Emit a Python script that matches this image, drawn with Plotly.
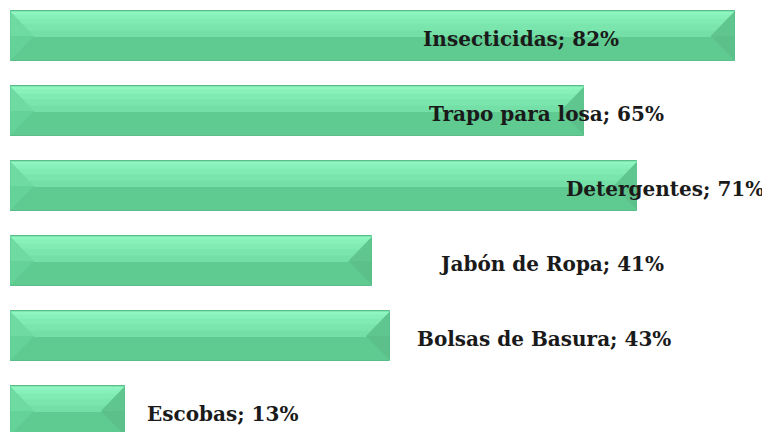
import plotly.graph_objects as go

# ---- data ----
categories = ["Insecticidas", "Trapo para losa", "Detergentes", "Jabón de Ropa", "Bolsas de Basura", "Escobas"]
values = [82, 65, 71, 41, 43, 13]
# label centre positions (x, in % units) as placed in the original chart
label_x = [57.8, 60.7, 74.1, 61.3, 60.4, 24.0]

pos = list(range(len(categories)))
BAR_W = 0.667
HALF = BAR_W / 2
BEVEL = 2.65  # x-units of the end bevels

fig = go.Figure()

# base bar (lower, darker tone)
fig.add_trace(go.Bar(
    y=pos, x=values, orientation="h", width=BAR_W,
    marker=dict(color="#5FCB91", line=dict(color="#5ABD8A", width=1)),
    hoverinfo="skip", showlegend=False,
))


def poly(xs, ys, col):
    fig.add_trace(go.Scatter(x=xs + [xs[0]], y=ys + [ys[0]], fill="toself", mode="lines",
                             line=dict(width=0), fillcolor=col, hoverinfo="skip", showlegend=False))


# upper highlight band as nested trapezoids (gradient approximation)
bands = [(1.0, "#74DFA7"), (0.75, "#7AE5AD"), (0.5, "#80EBB3"), (0.28, "#88F1BB"), (0.1, "#8FF6C2")]
for p, v in zip(pos, values):
    top, bot = p - HALF + 0.012, p + HALF - 0.012
    x0, x1 = 0.06, v - 0.06
    for frac, col in bands:
        h = HALF * frac
        b = BEVEL * frac
        poly([x0, x1, x1 - b, x0 + b], [top, top, top + h, top + h], col)
    # left bevel triangle: upper / lower half
    poly([x0, x0 + BEVEL, x0], [top, p, p], "#6FDAA2")
    poly([x0, x0 + BEVEL, x0], [p, p, bot], "#65D299")
    # right bevel triangle
    poly([x1, x1 - BEVEL, x1], [top, p, p], "#60C68F")
    poly([x1, x1 - BEVEL, x1], [p, p, bot], "#5BC08A")

# labels
for p, c, v, lx in zip(pos, categories, values, label_x):
    fig.add_annotation(x=lx, y=p + 0.04, text=f"<b>{c}; {v}%</b>", showarrow=False,
                       xanchor="center", yanchor="middle",
                       font=dict(family="DejaVu Serif", size=20, color="#1a1a1a"))

# page body has an 8px offset; compensate in margins / ranges
fig.update_layout(
    width=770, height=432,
    margin=dict(l=2, r=0, t=0, b=0),
    paper_bgcolor="white", plot_bgcolor="white",
    barmode="overlay", bargap=0,
    xaxis=dict(range=[0, 86.9], visible=False, fixedrange=True),
    yaxis=dict(range=[5.387, -0.373], visible=False, fixedrange=True),
)

fig.write_html("out.html")
